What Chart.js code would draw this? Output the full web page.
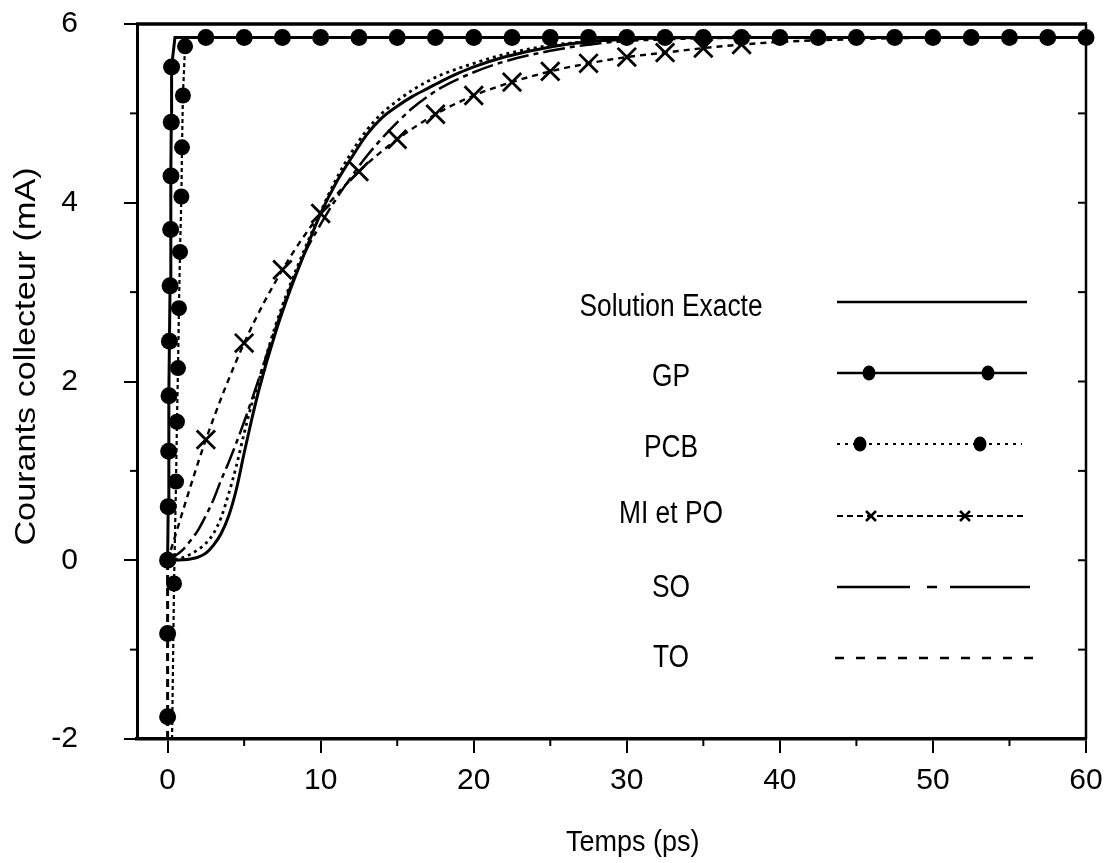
<!DOCTYPE html>
<html>
<head>
<meta charset="utf-8">
<title>Courants collecteur</title>
<script src="https://cdn.jsdelivr.net/npm/chart.js@4.4.1/dist/chart.umd.min.js"></script>
<style>
  html, body { margin: 0; padding: 0; background: #fff; }
  canvas { display: block; }
</style>
</head>
<body>
<canvas id="c" width="1106" height="863"></canvas>
<script>
// Temps (ps) et courants collecteur (mA) pour chaque méthode
const exactT = [0, 0.5, 1, 1.5, 2, 2.5, 3, 3.5, 4, 4.5, 5, 5.5, 6, 7, 8, 9, 10, 11, 12, 13, 14, 15, 16, 17, 18, 19, 20, 22, 24, 26, 28, 30, 33, 36, 40, 50, 60];
const exactI = [0, 0, 0.005, 0.015, 0.035, 0.08, 0.17, 0.3, 0.5, 0.8, 1.2, 1.58, 1.93, 2.52, 3.02, 3.46, 3.88, 4.22, 4.5, 4.76, 4.95, 5.08, 5.19, 5.28, 5.37, 5.45, 5.52, 5.63, 5.71, 5.77, 5.81, 5.83, 5.845, 5.85, 5.85, 5.85, 5.85];

const gpT = [0, 0, 0, 0, 0.04, 0.07, 0.09, 0.12, 0.16, 0.2, 0.22, 0.24, 0.26, 0.48,
             2.5, 5, 7.5, 10, 12.5, 15, 17.5, 20, 22.5, 25, 27.5, 30, 32.5, 35, 37.5, 40, 42.5, 45, 47.5, 50, 52.5, 55, 57.5, 60];
const gpI = [-2, -1.75, -0.82, 0, 0.6, 1.22, 1.84, 2.45, 3.07, 3.7, 4.3, 4.9, 5.52, 5.85,
             5.85, 5.85, 5.85, 5.85, 5.85, 5.85, 5.85, 5.85, 5.85, 5.85, 5.85, 5.85, 5.85, 5.85, 5.85, 5.85, 5.85, 5.85, 5.85, 5.85, 5.85, 5.85, 5.85, 5.85];
// true = point calculé (marqué), false = simple raccord du tracé
const gpMark = [false, true, true, true, true, true, true, true, true, true, true, true, true, false,
                true, true, true, true, true, true, true, true, true, true, true, true, true, true, true, true, true, true, true, true, true, true, true, true];

const pcbT = [0.29, 0.42, 0.55, 0.61, 0.68, 0.74, 0.81, 0.9, 0.94, 1.0, 1.14, 1.2];
const pcbI = [-2, -0.26, 0.88, 1.55, 2.15, 2.82, 3.45, 4.07, 4.62, 5.2, 5.75, 5.85];
const pcbMark = [false, true, true, true, true, true, true, true, true, true, true, false];

const miT = [0, 2.5, 5, 7.5, 10, 12.5, 15, 17.5, 20, 22.5, 25, 27.5, 30, 32.5, 35, 37.5, 40, 45, 50];
const miI = [0, 1.35, 2.43, 3.25, 3.88, 4.35, 4.71, 4.99, 5.2, 5.35, 5.47, 5.56, 5.63, 5.68, 5.73, 5.77, 5.8, 5.83, 5.85];
const miMark = [false, true, true, true, true, true, true, true, true, true, true, true, true, true, true, true, false, false, false];

const soT = [0, 0.5, 1, 1.5, 2, 2.5, 3, 3.5, 4, 5, 6, 7, 8, 9, 10, 11, 12, 13, 14, 15, 16, 17, 18, 20, 22, 25, 28, 30, 35, 40];
const soI = [0, 0.05, 0.12, 0.22, 0.34, 0.5, 0.68, 0.9, 1.1, 1.55, 2.05, 2.57, 3.05, 3.45, 3.76, 4.04, 4.29, 4.52, 4.72, 4.9, 5.06, 5.19, 5.3, 5.46, 5.58, 5.7, 5.78, 5.81, 5.84, 5.85];

const toT = [0, 1, 2, 2.5, 3, 3.5, 4, 4.5, 5, 5.5, 6, 7, 8, 9, 10, 11, 12, 13, 14, 15, 16, 17, 18, 20, 22, 25, 28, 30, 35, 40];
const toI = [0, 0.03, 0.12, 0.19, 0.3, 0.48, 0.75, 1.06, 1.42, 1.75, 2.03, 2.6, 3.08, 3.5, 3.9, 4.26, 4.56, 4.81, 5.0, 5.14, 5.26, 5.36, 5.44, 5.56, 5.66, 5.76, 5.81, 5.83, 5.85, 5.85];

const xTicks = [0, 10, 20, 30, 40, 50, 60];
const xMinorTicks = [5, 15, 25, 35, 45, 55];
const yTicks = [-2, 0, 2, 4, 6];
const yMinorTicks = [-1, 1, 3, 5];

const seriesNames = ['Solution Exacte', 'GP', 'PCB', 'MI et PO', 'SO', 'TO'];
const xTitle = 'Temps (ps)';
const yTitle = 'Courants collecteur (mA)';

const FONT = "'Liberation Sans', Arial, sans-serif";

function pts(t, v, m) {
  return t.map((x, k) => ({ x: x, y: v[k], mark: m ? m[k] : true }));
}
const markRadius = r => ctx => (ctx.raw && ctx.raw.mark ? r : 0);

// texte étroit : police normale compressée horizontalement
function narrowText(ctx, text, x, y, sx, sy, angle) {
  ctx.save();
  ctx.translate(x, y);
  if (angle) ctx.rotate(angle);
  ctx.scale(sx, sy);
  ctx.fillText(text, 0, 0);
  ctx.restore();
}

// Cadre supérieur/droit, graduations secondaires, titres d'axes et légende
const decorations = {
  id: 'decorations',
  afterDraw(chart) {
    const { ctx, chartArea: a, scales: { x, y } } = chart;
    ctx.save();
    ctx.strokeStyle = '#000';
    ctx.fillStyle = '#000';
    ctx.setLineDash([]);

    // cadre haut et droit
    ctx.lineWidth = 3.5;
    ctx.beginPath();
    ctx.moveTo(a.left - 1, a.top);
    ctx.lineTo(a.right + 1, a.top);
    ctx.stroke();
    ctx.lineWidth = 2.5;
    ctx.beginPath();
    ctx.moveTo(a.right, a.top);
    ctx.lineTo(a.right, a.bottom);
    ctx.stroke();

    // graduations secondaires
    ctx.lineWidth = 2;
    xMinorTicks.forEach(v => {
      const px = x.getPixelForValue(v);
      ctx.beginPath(); ctx.moveTo(px, a.bottom); ctx.lineTo(px, a.bottom + 7); ctx.stroke();
    });
    yMinorTicks.forEach(v => {
      const py = y.getPixelForValue(v);
      ctx.beginPath(); ctx.moveTo(a.left, py); ctx.lineTo(a.left - 7, py); ctx.stroke();
    });
    [...yMinorTicks, ...yTicks].forEach(v => {
      if (v <= y.min || v >= y.max) return;
      const py = y.getPixelForValue(v);
      ctx.beginPath(); ctx.moveTo(a.right, py); ctx.lineTo(a.right - 8, py); ctx.stroke();
    });

    // titres des axes
    ctx.font = '30px ' + FONT;
    ctx.textAlign = 'center';
    ctx.textBaseline = 'middle';
    narrowText(ctx, xTitle, x.getPixelForValue(30) + 6, 843, 0.9, 1, 0);
    narrowText(ctx, yTitle, 27, y.getPixelForValue(2.28), 1.14, 1, -Math.PI / 2);

    // légende
    const textX = 671, x0 = 837, x1 = 1027;
    const rows = [307, 377, 448, 514, 588, 658];
    const lineRows = [302, 373, 444, 516, 587, 658];
    ctx.font = '31px ' + FONT;
    seriesNames.forEach((name, k) => narrowText(ctx, name, textX, rows[k], 0.85, 1, 0));

    const seg = (y0, dash, from, to, lw) => {
      ctx.save();
      ctx.lineWidth = lw;
      ctx.setLineDash(dash);
      ctx.beginPath(); ctx.moveTo(from, y0); ctx.lineTo(to, y0); ctx.stroke();
      ctx.restore();
    };
    const dot = (cx, cy) => {
      ctx.beginPath(); ctx.ellipse(cx, cy, 6.5, 7.5, 0, 0, 2 * Math.PI); ctx.fill();
    };
    const cross = (cx, cy) => {
      ctx.save(); ctx.lineWidth = 2.5; ctx.setLineDash([]);
      ctx.beginPath();
      ctx.moveTo(cx - 5, cy - 5); ctx.lineTo(cx + 5, cy + 5);
      ctx.moveTo(cx + 5, cy - 5); ctx.lineTo(cx - 5, cy + 5);
      ctx.stroke(); ctx.restore();
    };
    seg(lineRows[0], [], x0, x1, 2.5);
    seg(lineRows[1], [], x0, x1, 2.5);
    dot(869, lineRows[1]); dot(988, lineRows[1]);
    seg(lineRows[2], [3, 5], x0, 1022, 2);
    dot(860, lineRows[2]); dot(980, lineRows[2]);
    seg(lineRows[3], [6, 4], x0, x1, 2);
    cross(871, lineRows[3]); cross(965, lineRows[3]);
    seg(lineRows[4], [], x0, 910, 2.5);
    seg(lineRows[4], [], 927, 937, 2.5);
    seg(lineRows[4], [], 950, 1030, 2.5);
    seg(lineRows[5], [9, 12], 835, 1040, 2.5);

    ctx.restore();
  }
};

const line = (label, data, extra) => Object.assign({
  label: label,
  data: data,
  borderColor: '#000',
  backgroundColor: '#000',
  pointBackgroundColor: '#000',
  pointBorderColor: '#000',
  borderWidth: 2.5,
  pointRadius: 0,
  pointHoverRadius: 0,
  fill: false,
  tension: 0
}, extra);

new Chart(document.getElementById('c'), {
  type: 'line',
  data: {
    datasets: [
      line(seriesNames[0], pts(exactT, exactI), { borderWidth: 3, cubicInterpolationMode: 'monotone' }),
      line(seriesNames[4], pts(soT, soI), { borderDash: [22, 5, 5, 5], cubicInterpolationMode: 'monotone' }),
      line(seriesNames[5], pts(toT, toI), { borderDash: [3, 4], borderWidth: 2.8, cubicInterpolationMode: 'monotone' }),
      line(seriesNames[3], pts(miT, miI, miMark), {
        borderDash: [6, 5], borderWidth: 2.4,
        pointStyle: 'crossRot', pointRadius: markRadius(13), pointBorderWidth: 2.8,
        cubicInterpolationMode: 'monotone'
      }),
      line(seriesNames[2], pts(pcbT, pcbI, pcbMark), {
        borderDash: [4, 3], borderWidth: 2.2,
        pointStyle: 'circle', pointRadius: markRadius(8), pointBorderWidth: 0
      }),
      line(seriesNames[1], pts(gpT, gpI, gpMark), {
        borderWidth: 3, clip: false,
        pointStyle: 'circle', pointRadius: markRadius(8.5), pointBorderWidth: 0,
        segment: { borderDash: c => (c.p1.parsed.y <= 0 ? [8, 5] : undefined) }
      })
    ]
  },
  options: {
    responsive: false,
    animation: false,
    events: [],
    layout: { padding: { top: 24, right: 20, left: 0, bottom: 0 } },
    plugins: { legend: { display: false }, tooltip: { enabled: false } },
    scales: {
      x: {
        type: 'linear',
        min: -2, max: 60,
        afterBuildTicks: s => { s.ticks = xTicks.map(v => ({ value: v })); },
        afterFit: s => { s.height = 124; s.paddingLeft = 0; s.paddingRight = 0; },
        grid: { drawOnChartArea: false, drawTicks: true, tickLength: 14, lineWidth: 2, color: '#000' },
        border: { display: true, width: 3.5, color: '#000' },
        ticks: { color: '#000', font: { family: FONT, size: 30 }, padding: 10, maxRotation: 0, autoSkip: false },
        title: { display: false }
      },
      y: {
        type: 'linear',
        min: -2, max: 6,
        afterBuildTicks: s => { s.ticks = yTicks.map(v => ({ value: v })); },
        afterFit: s => { s.width = 137; s.paddingTop = 0; s.paddingBottom = 0; },
        grid: { drawOnChartArea: false, drawTicks: true, tickLength: 13, lineWidth: 2, color: '#000' },
        border: { display: true, width: 3, color: '#000' },
        ticks: { color: '#000', font: { family: FONT, size: 30 }, padding: 46, autoSkip: false },
        title: { display: false }
      }
    }
  },
  plugins: [decorations]
});
</script>
</body>
</html>
